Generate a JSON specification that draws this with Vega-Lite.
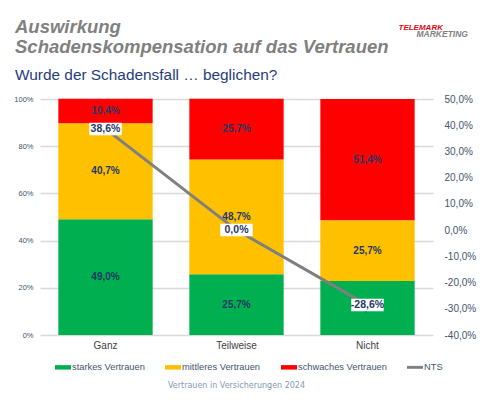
{
  "$schema": "https://vega.github.io/schema/vega-lite/v6.json",
  "width": 393,
  "height": 236,
  "autosize": {"type": "none"},
  "padding": {"left": 40, "top": 99, "right": 58, "bottom": 65},
  "background": "white",
  "title": {
    "text": ["Auswirkung", "Schadenskompensation auf das Vertrauen"],
    "subtitle": "Wurde der Schadensfall … beglichen?",
    "anchor": "start",
    "frame": "group",
    "dx": -25,
    "dy": 72,
    "font": "Liberation Sans",
    "fontSize": 18.5,
    "fontWeight": "bold",
    "fontStyle": "italic",
    "color": "#808080",
    "lineHeight": 20,
    "subtitleFont": "Liberation Sans",
    "subtitleFontSize": 15.4,
    "subtitleColor": "#1F3E79",
    "subtitlePadding": 11,
    "offset": 12
  },
  "config": {
    "locale": {"number": {"decimal": ",", "thousands": ".", "grouping": [3], "currency": ["", " €"], "minus": "-"}},
    "view": {"stroke": null},
    "font": "Liberation Sans"
  },
  "datasets": {
    "bars": [
      {"cat": "Ganz", "grp": "starkes Vertrauen", "o": 1, "v": 0.490},
      {"cat": "Ganz", "grp": "mittleres Vertrauen", "o": 2, "v": 0.407},
      {"cat": "Ganz", "grp": "schwaches Vertrauen", "o": 3, "v": 0.104},
      {"cat": "Teilweise", "grp": "starkes Vertrauen", "o": 1, "v": 0.257},
      {"cat": "Teilweise", "grp": "mittleres Vertrauen", "o": 2, "v": 0.487},
      {"cat": "Teilweise", "grp": "schwaches Vertrauen", "o": 3, "v": 0.257},
      {"cat": "Nicht", "grp": "starkes Vertrauen", "o": 1, "v": 0.229},
      {"cat": "Nicht", "grp": "mittleres Vertrauen", "o": 2, "v": 0.257},
      {"cat": "Nicht", "grp": "schwaches Vertrauen", "o": 3, "v": 0.514}
    ],
    "nts": [
      {"cat": "Ganz", "nts": 0.386},
      {"cat": "Teilweise", "nts": 0.0},
      {"cat": "Nicht", "nts": -0.286}
    ]
  },
  "layer": [
    {
      "data": {"name": "bars"},
      "transform": [{"stack": "v", "groupby": ["cat"], "sort": [{"field": "o"}], "as": ["v0", "v1"]}],
      "encoding": {
        "x": {"field": "cat", "type": "nominal", "sort": ["Ganz", "Teilweise", "Nicht"], "scale": {"paddingInner": 0.28, "paddingOuter": 0.14},
          "axis": {"title": "Vertrauen in Versicherungen 2024", "titleFont": "DejaVu Sans", "titleFontSize": 8, "titleFontWeight": "normal", "titleColor": "#8497B0", "titleY": 50, "titleX": 196, "titleBaseline": "middle", "titleAlign": "center", "labelAngle": 0, "labelFontSize": 10, "labelColor": "#404040", "labelPadding": 5, "ticks": false, "domain": false}}
      },
      "layer": [
        {
          "mark": {"type": "bar"},
          "encoding": {
            "y": {"field": "v0", "type": "quantitative", "scale": {"domain": [0, 1], "nice": false},
              "axis": {"values": [0, 0.2, 0.4, 0.6, 0.8, 1], "format": ".0%", "labelFontSize": 7.5, "labelColor": "#44546A", "labelPadding": 7, "grid": true, "gridColor": "#D9D9D9", "gridWidth": 1.5, "domain": false, "ticks": false,
                "title": "TELEMARK", "titleAngle": 0, "titleX": 358, "titleY": -70, "titleAlign": "left", "titleBaseline": "alphabetic", "titleColor": "#E30613", "titleFontSize": 8, "titleFontStyle": "italic", "titleFontWeight": "bold"}},
            "y2": {"field": "v1"},
            "color": {"field": "grp", "type": "nominal",
              "scale": {"domain": ["starkes Vertrauen", "mittleres Vertrauen", "schwaches Vertrauen", "NTS"], "range": ["#00B050", "#FFC000", "#FF0000", "#7F7F7F"]},
              "legend": {"orient": "none", "legendX": 15, "legendY": 260, "direction": "horizontal", "title": null, "labelFontSize": 9.3, "labelColor": "#44546A", "symbolSize": 256, "columnPadding": 20, "labelOffset": 1,
                "encode": {"symbols": {"update": {"shape": {"signal": "datum.value === 'NTS' ? 'M-1,-0.18H1V0.18H-1Z' : 'M-1,-0.28H1V0.28H-1Z'"}, "fill": {"signal": "scale('color', datum.value)"}, "strokeWidth": {"value": 0}, "opacity": {"value": 1}}}}}}
          }
        },
        {
          "transform": [
            {"fold": ["v0", "v1"], "as": ["k", "pos"]},
            {"aggregate": [{"op": "mean", "field": "pos", "as": "mid"}, {"op": "max", "field": "v", "as": "val"}], "groupby": ["cat", "grp"]}
          ],
          "mark": {"type": "text", "fontWeight": "bold", "fontSize": 10, "color": "#1F3864"},
          "encoding": {
            "y": {"field": "mid", "type": "quantitative", "scale": {"domain": [0, 1], "nice": false},
              "axis": {"values": [0, 0.2, 0.4, 0.6, 0.8, 1], "format": ".0%", "labelFontSize": 7.5, "labelColor": "#44546A", "labelPadding": 7, "grid": true, "gridColor": "#D9D9D9", "gridWidth": 1.5, "domain": false, "ticks": false,
                "title": "TELEMARK", "titleAngle": 0, "titleX": 358, "titleY": -70, "titleAlign": "left", "titleBaseline": "alphabetic", "titleColor": "#E30613", "titleFontSize": 8, "titleFontStyle": "italic", "titleFontWeight": "bold"}},
            "text": {"field": "val", "type": "quantitative", "format": ".1%"}
          }
        }
      ]
    },
    {
      "data": {"name": "nts"},
      "encoding": {
        "x": {"field": "cat", "type": "nominal", "sort": ["Ganz", "Teilweise", "Nicht"], "scale": {"paddingInner": 0.28, "paddingOuter": 0.14},
          "axis": {"title": "Vertrauen in Versicherungen 2024", "titleFont": "DejaVu Sans", "titleFontSize": 8, "titleFontWeight": "normal", "titleColor": "#8497B0", "titleY": 50, "titleX": 196, "titleBaseline": "middle", "titleAlign": "center", "labelAngle": 0, "labelFontSize": 10, "labelColor": "#404040", "labelPadding": 5, "ticks": false, "domain": false}},
        "y": {"field": "nts", "type": "quantitative", "scale": {"domain": [-0.4, 0.5], "nice": false},
          "axis": {"orient": "right", "values": [-0.4, -0.3, -0.2, -0.1, 0, 0.1, 0.2, 0.3, 0.4, 0.5], "format": ".1%", "labelOverlap": false, "labelFontSize": 10, "labelColor": "#44546A", "labelPadding": 11, "grid": false, "domain": false, "ticks": false,
            "title": "MARKETING", "titleAngle": 0, "titleX": -17, "titleY": -63, "titleAlign": "left", "titleBaseline": "alphabetic", "titleColor": "#7F7F7F", "titleFontSize": 8.5, "titleFontStyle": "italic", "titleFontWeight": "bold"}}
      },
      "layer": [
        {
          "mark": {"type": "line", "strokeWidth": 3},
          "encoding": {"color": {"datum": "NTS"}}
        },
        {
          "mark": {"type": "point", "shape": "M-1.3,-0.5H1.3V0.5H-1.3Z", "size": 625, "filled": true, "color": "white", "opacity": 1},
          "encoding": {}
        },
        {
          "mark": {"type": "text", "fontWeight": "bold", "fontSize": 10.5, "color": "#1F3864"},
          "encoding": {"text": {"field": "nts", "type": "quantitative", "format": ".1%"}}
        }
      ]
    }
  ],
  "resolve": {"scale": {"y": "independent"}}
}
